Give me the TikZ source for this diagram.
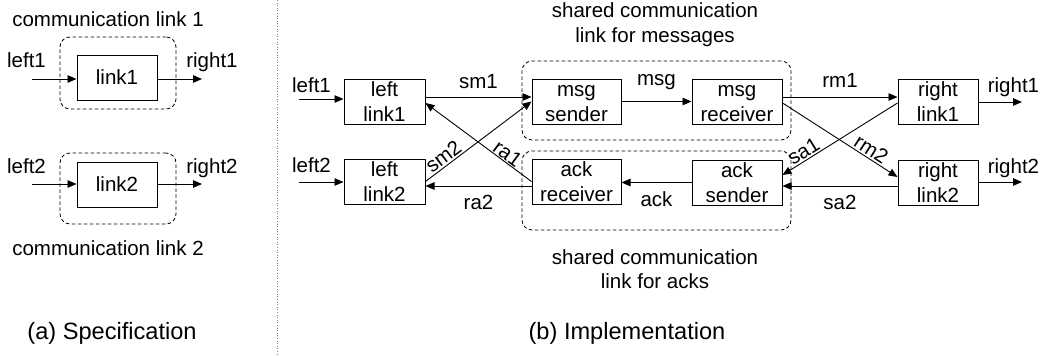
\documentclass[tikz,border=0pt]{standalone}
\usepackage{fontspec}
\setmainfont{Liberation Sans}
\usetikzlibrary{arrows.meta}
\begin{document}
\begin{tikzpicture}[x=1pt,y=-1pt,
  every node/.style={font=\fontsize{20.5}{24.5}\selectfont},
  blk/.style={draw, line width=1pt, inner sep=0pt, align=center, minimum height=45pt},
  grp/.style={draw, dash pattern=on 3.5pt off 2.5pt, line width=0.8pt, rounded corners=10pt, inner sep=0pt},
  arr/.style={-{Triangle[length=9pt,width=7.5pt]}, line width=0.9pt},
  lab/.style={inner sep=1.5pt},
  captxt/.style={font=\fontsize{23.6}{28}\selectfont}
]
\useasboundingbox (0,0) rectangle (1045,356);

% ---------- (a) Specification ----------
\node[grp, minimum width=116pt, minimum height=72pt] (g1) at (118,73) {};
\node[grp, minimum width=116pt, minimum height=71pt] (g2) at (118,188.5) {};
\node[blk, minimum width=80pt] (link1) at (117,77.5) {link1};
\node[blk, minimum width=80pt] (link2) at (117,184.5) {link2};
\coordinate (a1) at (32,79);  \coordinate (b1) at (202,79);
\coordinate (a2) at (32,184); \coordinate (b2) at (202,184);
\draw[arr] (a1) -- (a1 -| link1.west);
\draw[arr] (link1.east |- b1) -- (b1);
\draw[arr] (a2) -- (a2 -| link2.west);
\draw[arr] (link2.east |- b2) -- (b2);
\node[anchor=base] (tl1) at (26.5,67) {left1};
\node[anchor=base] (tr1) at (212,67) {right1};
\node[anchor=base] (tl2) at (26.5,173) {left2};
\node[anchor=base] (tr2) at (212,173) {right2};
\node[anchor=base] (c1) at (108,26) {communication link 1};
\node[anchor=base] (c2) at (108,255) {communication link 2};
\node[captxt, anchor=base] (capa) at (112,339.5) {(a) Specification};

% separator
\coordinate (s1) at (277,0); \coordinate (s2) at (277,356);
\draw[dotted, gray, line width=0.6pt] (s1) -- (s2);

% ---------- (b) Implementation ----------
\node[grp, minimum width=269pt, minimum height=79pt] (gm) at (656.5,100.5) {};
\node[grp, minimum width=269pt, minimum height=79pt] (ga) at (656.5,190.5) {};
\node[blk, minimum width=81pt] (ll1) at (384.5,101.5) {\vphantom{l}left\\link1};
\node[blk, minimum width=81pt] (ll2) at (384.5,181.5) {\vphantom{l}left\\link2};
\node[blk, minimum width=89pt] (ms) at (576.5,101.5) {\vphantom{l}msg\\sender};
\node[blk, minimum width=89pt] (ar) at (576.5,181.5) {\vphantom{l}ack\\receiver};
\node[blk, minimum width=90pt] (mr) at (737,101.5) {\vphantom{l}msg\\receiver};
\node[blk, minimum width=90pt] (as) at (737,182.5) {\vphantom{l}ack\\sender};
\node[blk, minimum width=80pt] (rl1) at (938,101.5) {\vphantom{l}right\\link1};
\node[blk, minimum width=80pt] (rl2) at (938,182.5) {\vphantom{l}right\\link2};

\coordinate (L1) at (299,99);  \draw[arr] (L1) -- (L1 -| ll1.west);
\coordinate (L2) at (299,182); \draw[arr] (L2) -- (L2 -| ll2.west);
\node[anchor=base] (tl1b) at (311.5,92) {left1};
\node[anchor=base] (tl2b) at (311.5,172) {left2};

\draw[arr] ([yshift=4.5pt]ll1.east) -- node[anchor=base, yshift=9pt] {sm1} ([yshift=4.5pt]ms.west);
\draw[arr] (ll2.east) -- node[lab, sloped, above, pos=0.22] {sm2} (ms.west);
\draw[arr] (ar.west) -- node[sloped, above, pos=0.27, inner sep=0.5pt] {ra1} ([yshift=-1.5pt]ll1.east);
\draw[arr] ([yshift=-4.5pt]ar.west) -- node[anchor=base, yshift=-23pt] {ra2} ([yshift=-4.5pt]ll2.east);

\draw[arr] (ms) -- node[anchor=base, yshift=16.5pt] {msg} (mr);
\draw[arr] (as.west) -- node[anchor=base, yshift=-23.5pt] {ack} (as.west -| ar.east);

\draw[arr] ([yshift=4.5pt]mr.east) -- node[anchor=base, yshift=10pt] {rm1} ([yshift=4.5pt]rl1.west);
\draw[arr] ([yshift=-1.5pt]mr.east) -- node[lab, sloped, above, pos=0.73] {rm2} ([yshift=5.5pt]rl2.west);
\draw[arr] ([yshift=-1.5pt]rl1.west) -- node[lab, sloped, above, pos=0.775] {sa1} ([yshift=7.5pt]as.east);
\draw[arr] ([yshift=-3.5pt]rl2.west) -- node[anchor=base, yshift=-23pt] {sa2} ([yshift=-3.5pt]as.east);

\coordinate (R1) at (1022,102); \draw[arr] (rl1.east |- R1) -- (R1);
\coordinate (R2) at (1022,182); \draw[arr] (rl2.east |- R2) -- (R2);
\node[anchor=base] (tr1b) at (1013.5,92) {right1};
\node[anchor=base] (tr2b) at (1013.5,173) {right2};

\node[anchor=base, align=center] (tm) at (655,42) {shared communication\\link for messages};
\node[anchor=base, align=center] (ta) at (655,288.5) {shared communication\\link for acks};
\node[captxt, anchor=base] (capb) at (627,339.5) {(b) Implementation};
\end{tikzpicture}
\end{document}
